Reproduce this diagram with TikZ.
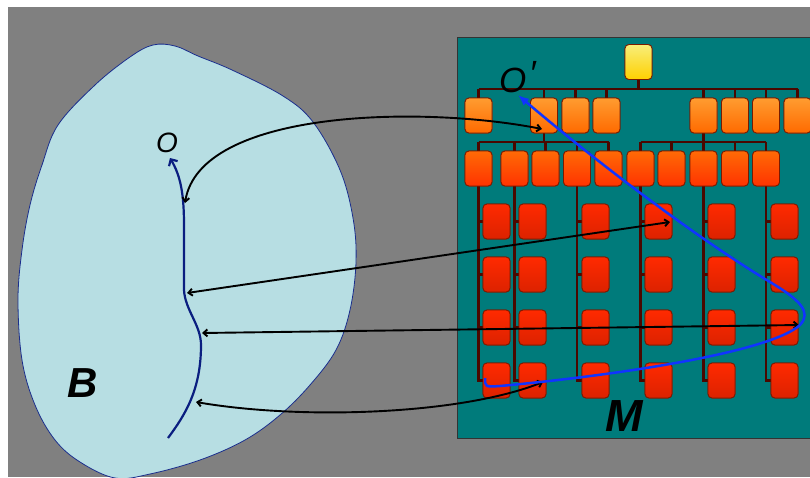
\documentclass[tikz,border=0pt]{standalone}
\usepackage{fontspec}
\setmainfont{Liberation Sans}
\usetikzlibrary{arrows.meta}
\definecolor{bggray}{HTML}{808080}
\definecolor{tealbg}{HTML}{007B7B}
\definecolor{blobfill}{HTML}{B7DEE3}
\definecolor{blobedge}{HTML}{1A2D8C}
\definecolor{navy}{HTML}{0A1E80}
\definecolor{pathblue}{HTML}{1034FF}
\definecolor{treecol}{HTML}{4A0800}
\definecolor{boxedge}{HTML}{7A1A00}
\definecolor{yeltop}{HTML}{F8EE7A}
\definecolor{yelbot}{HTML}{FFD000}
\definecolor{onetop}{HTML}{FF9C30}
\definecolor{onebot}{HTML}{FF6A00}
\definecolor{twotop}{HTML}{FF6A06}
\definecolor{twobot}{HTML}{FF3300}
\definecolor{thrtop}{HTML}{FF2A00}
\definecolor{thrbot}{HTML}{DC2200}
\tikzset{
  boxbase/.style={rectangle, rounded corners=4pt, minimum width=27pt, minimum height=35pt,
    inner sep=0pt, draw=boxedge, line width=0.8pt},
  yellowbox/.style={boxbase, top color=yeltop, bottom color=yelbot},
  lvlone/.style={boxbase, top color=onetop, bottom color=onebot},
  lvltwo/.style={boxbase, top color=twotop, bottom color=twobot},
  lvlthree/.style={boxbase, top color=thrtop, bottom color=thrbot},
  treeline/.style={draw=treecol, line width=2.8pt, line join=miter},
  link/.style={draw=black, line width=1.9pt,
    {Straight Barb[length=4pt,width=7pt]}-{Straight Barb[length=4pt,width=7pt]}},
  lbl/.style={inner sep=0pt, text=black}
}
\begin{document}
\begin{tikzpicture}[x=1pt,y=-1pt]
\useasboundingbox (0,0) rectangle (810,477);
\fill[white] (0,0) rectangle (810,477);
\fill[bggray] (8,7) rectangle (810,477);

% frame of the hierarchy M
\fill[tealbg, draw=black!80, line width=0.8pt] (457,37) rectangle (814,438);

% boxes of the hierarchy (named, used as anchors for the tree lines)
\node[yellowbox] (root) at (638.5,62) {};
\foreach \n/\x in {1/478.5,2/544,3/575.5,4/606.5,5/703.5,6/735,7/766,8/797.5}
  \node[lvlone] (a\n) at (\x,115.5) {};
\foreach \n/\x in {1/478.5,2/514.5,3/545.5,4/577,5/608.5,6/640.5,7/671.5,8/703.5,9/735,10/766}
  \node[lvltwo] (b\n) at (\x,168.5) {};
\foreach \i/\x in {1/496.5,2/532.5,3/595.5,4/658.5,5/721.5,6/784.5}
  \foreach \j/\y in {1/221.5,2/274.5,3/327.5,4/380.5}
    \node[lvlthree] (c\i-\j) at (\x,\y) {};

% tree connections
\coordinate (busone) at (0,89);
\coordinate (bustwo) at (0,142);
\draw[treeline] (root.south) -- (root.south |- busone);
\draw[treeline] (a1.north |- busone) -- (a8.north |- busone);
\foreach \n in {1,...,8}
  \draw[treeline] (a\n.north |- busone) -- (a\n.north);
\draw[treeline] (a2.south) -- (a2.south |- bustwo);
\draw[treeline] (b1.north |- bustwo) -- (b5.north |- bustwo);
\draw[treeline] (a5.south) -- (a5.south |- bustwo);
\draw[treeline] (b6.north |- bustwo) -- (b10.north |- bustwo);
\foreach \n in {1,...,10}
  \draw[treeline] (b\n.north |- bustwo) -- (b\n.north);
\foreach \p/\i in {1/1,2/2,4/3,6/4,8/5,10/6} {
  \draw[treeline] (b\p.south) -- (b\p.south |- c\i-4.west) -- (c\i-4.west);
  \foreach \j in {1,2,3}
    \draw[treeline] (b\p.south |- c\i-\j.west) -- (c\i-\j.west);
}
% boxes again, over the line ends
\foreach \n/\x in {1/478.5,2/544,3/575.5,4/606.5,5/703.5,6/735,7/766,8/797.5}
  \node[lvlone] at (\x,115.5) {};
\foreach \n/\x in {1/478.5,2/514.5,3/545.5,4/577,5/608.5,6/640.5,7/671.5,8/703.5,9/735,10/766}
  \node[lvltwo] at (\x,168.5) {};
\foreach \i/\x in {1/496.5,2/532.5,3/595.5,4/658.5,5/721.5,6/784.5}
  \foreach \j/\y in {1/221.5,2/274.5,3/327.5,4/380.5}
    \node[lvlthree] at (\x,\y) {};
\node[yellowbox] at (638.5,62) {};

% the body B
\fill[blobfill, draw=blobedge, line width=0.8pt]
  plot[smooth cycle, tension=0.6] coordinates {
  (153,45) (175,46) (198,56) (232,70) (283,96) (313,122) (340,170) (353,218) (356,262)
  (350,310) (336,350) (310,385) (280,415) (245,440) (200,460) (150,474) (115,478)
  (80,462) (55,440) (35,405) (22,360) (18,300) (22,250) (30,205) (42,165)
  (58,125) (95,85) (130,57)};

% material line in B
\coordinate (lstart) at (168,438);
\coordinate (lend) at (170,158);
\draw[navy, line width=2.2pt, -{Straight Barb[length=5pt,width=10pt]}]
  (lstart) .. controls (185,415) and (201,390) .. (201,345)
  .. controls (201,325) and (185,310) .. (184,290) -- (184,225)
  .. controls (184,192) and (180,175) .. (lend);

% correspondence links
\coordinate (p1) at (185,203);
\coordinate (p2) at (187,293);
\coordinate (p3) at (202,333);
\coordinate (p4) at (196,402);
\coordinate (q1) at (542,129);
\coordinate (q2) at (670,222);
\coordinate (q3) at (799,325);
\coordinate (q4) at (543,382);
\draw[link] (p1) .. controls (200,110) and (420,105) .. (q1);
\draw[link] (p2) -- (q2);
\draw[link] (p3) -- (q3);
\draw[link] (p4) .. controls (300,420) and (460,415) .. (q4);

% image path in M
\coordinate (mstart) at (485,378);
\coordinate (mend) at (518,95);
\draw[pathblue, line width=2.5pt, -{Latex[length=11pt,width=9pt]}]
  (mstart) .. controls (485,387) .. (500,386)
  .. controls (620,375) and (770,352) .. (800,325)
  .. controls (812,312) and (800,300) .. (770,282)
  .. controls (700,240) and (600,165) .. (mend);

% labels
\node[lbl, font=\itshape\fontsize{28}{28}\selectfont] (o) at (167,143) {O};
\node[lbl, font=\itshape\fontsize{35}{35}\selectfont, anchor=base west] (op) at (499,92)
  {O\hspace{0.08em}\raisebox{0.2em}{′}};
\node[lbl, font=\bfseries\itshape\fontsize{42}{42}\selectfont] (bl) at (83,383) {B};
\node[lbl, font=\bfseries\itshape\fontsize{45}{45}\selectfont] (ml) at (624.5,416) {M};
\end{tikzpicture}
\end{document}
